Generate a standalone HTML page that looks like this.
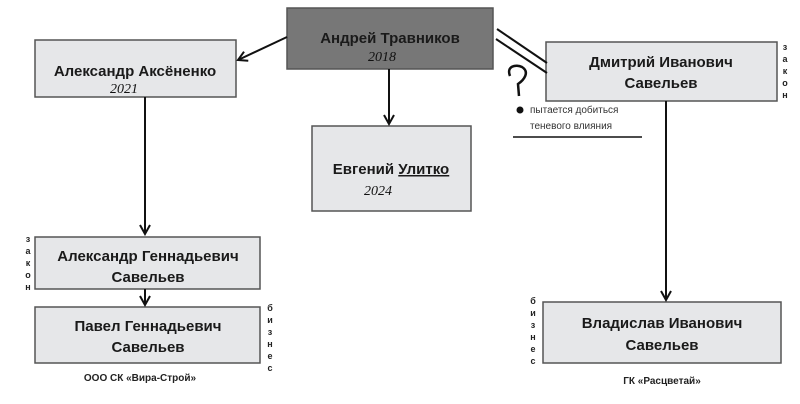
<!DOCTYPE html>
<html><head><meta charset="utf-8"><style>
body{margin:0;background:#fff;}
svg{display:block;font-family:"Liberation Sans",sans-serif;}
.n{font-weight:bold;font-size:15px;fill:#1a1a1a;text-anchor:middle;}
.v{font-weight:bold;font-size:9px;fill:#222;text-anchor:middle;}
.h{font-family:"Liberation Serif",serif;font-size:14px;fill:#111;font-style:italic;}
</style></head><body>
<svg width="800" height="404" viewBox="0 0 800 404">
<defs><marker id="a" markerWidth="12" markerHeight="12" refX="10" refY="6" orient="auto" markerUnits="userSpaceOnUse"><path d="M1,1 L10,6 L1,11" fill="none" stroke="#111" stroke-width="2"/></marker></defs>
<g stroke="#555" stroke-width="1.5">
<rect x="287" y="8" width="206" height="61" fill="#777"/>
<rect x="35" y="40" width="201" height="57" fill="#e6e7e9"/>
<rect x="312" y="126" width="159" height="85" fill="#e6e7e9"/>
<rect x="546" y="42" width="231" height="59" fill="#e6e7e9"/>
<rect x="35" y="237" width="225" height="52" fill="#e6e7e9"/>
<rect x="35" y="307" width="225" height="56" fill="#e6e7e9"/>
<rect x="543" y="302" width="238" height="61" fill="#e6e7e9"/>
</g>
<g stroke="#111" stroke-width="2" fill="none">
<line x1="287" y1="37" x2="238" y2="60" marker-end="url(#a)"/>
<line x1="389" y1="69" x2="389" y2="124" marker-end="url(#a)"/>
<line x1="145" y1="97" x2="145" y2="234" marker-end="url(#a)"/>
<line x1="145" y1="289" x2="145" y2="305" marker-end="url(#a)"/>
<line x1="666" y1="101" x2="666" y2="300" marker-end="url(#a)"/>
<line x1="497" y1="29" x2="547" y2="63"/>
<line x1="496" y1="39" x2="547" y2="73"/>
<line x1="513" y1="137" x2="642" y2="137" stroke-width="1.5"/>
<path d="M510,76 C506,66 516,64 522,67 C530,72 524,80 518,84 L519,96" stroke-width="2.5"/>
</g>
<text class="n" x="390" y="43">Андрей Травников</text>
<text class="h" x="368" y="61">2018</text>
<text class="n" x="135" y="76">Александр Аксёненко</text>
<text class="h" x="110" y="93">2021</text>
<text class="n" x="391" y="174">Евгений <tspan text-decoration="underline" style="text-decoration:underline red">Улитко</tspan></text>
<text class="h" x="364" y="195">2024</text>
<text class="n" x="661" y="67">Дмитрий Иванович</text>
<text class="n" x="661" y="88">Савельев</text>
<text class="n" x="148" y="261">Александр Геннадьевич</text>
<text class="n" x="148" y="282">Савельев</text>
<text class="n" x="148" y="331">Павел Геннадьевич</text>
<text class="n" x="148" y="352">Савельев</text>
<text class="n" x="662" y="328">Владислав Иванович</text>
<text class="n" x="662" y="350">Савельев</text>
<text x="140" y="381" font-size="10" font-weight="bold" text-anchor="middle" fill="#222">ООО СК «Вира-Строй»</text>
<text x="662" y="384" font-size="10" font-weight="bold" text-anchor="middle" fill="#222">ГК «Расцветай»</text>
<circle cx="520" cy="110" r="3.5" fill="#111"/>
<text x="530" y="113" font-size="10" fill="#333">пытается добиться</text>
<text x="530" y="129" font-size="10" fill="#333">теневого влияния</text>
<g class="v"><text x="785" y="50">з</text><text x="785" y="62">а</text><text x="785" y="74">к</text><text x="785" y="86">о</text><text x="785" y="98">н</text></g>
<g class="v"><text x="28" y="242">з</text><text x="28" y="254">а</text><text x="28" y="266">к</text><text x="28" y="278">о</text><text x="28" y="290">н</text></g>
<g class="v"><text x="270" y="311">б</text><text x="270" y="323">и</text><text x="270" y="335">з</text><text x="270" y="347">н</text><text x="270" y="359">е</text><text x="270" y="371">с</text></g>
<g class="v"><text x="533" y="304">б</text><text x="533" y="316">и</text><text x="533" y="328">з</text><text x="533" y="340">н</text><text x="533" y="352">е</text><text x="533" y="364">с</text></g>
</svg>
</body></html>
